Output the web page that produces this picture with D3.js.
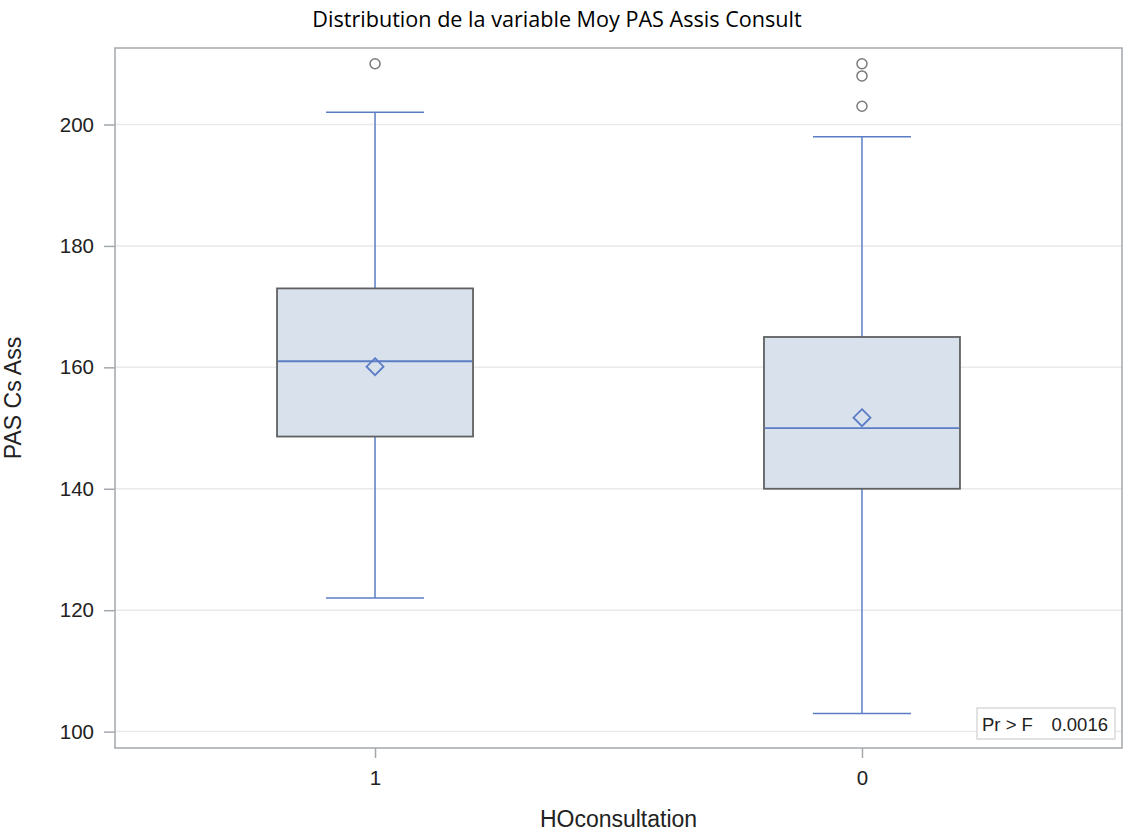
<!DOCTYPE html>
<html><head><meta charset="utf-8">
<script src="https://cdn.jsdelivr.net/npm/d3@7"></script>
<style>body{margin:0;background:#fff}svg{display:block}</style>
</head><body>
<svg id="c" width="1124" height="833"></svg>
<script>
const categories = ["1", "0"];
const whiskerLow = [122, 103];
const q1 = [148.6, 140];
const median = [161, 150];
const q3 = [173, 165];
const whiskerHigh = [202, 198];
const mean = [160.1, 151.7];
const outliers = [[210], [210, 208, 203]];
const yTicks = [100, 120, 140, 160, 180, 200];
const title = "Distribution de la variable Moy PAS Assis Consult";
const xTitle = "HOconsultation";
const yTitle = "PAS Cs Ass";
const statLabel = "Pr > F";
const statValue = "0.0016";

const svg = d3.select("#c");
const L = 115, R = 1122, T = 48, B = 748;
const y = d3.scaleLinear().domain([97.3, 212.6]).range([B, T]);
const x = d3.scalePoint().domain(categories).range([L, R]).padding(0.534);
const boxW = 196, capW = 98;
const blue = "#5b7dc6", font = "'Liberation Sans', Arial, sans-serif";

// gridlines
svg.append("g").selectAll("line").data(yTicks).join("line")
  .attr("x1", L).attr("x2", R).attr("y1", d => y(d)).attr("y2", d => y(d))
  .attr("stroke", "#e9e9e9").attr("stroke-width", 1.5);

// axes
const ya = svg.append("g").attr("transform", `translate(${L},0)`)
  .call(d3.axisLeft(y).tickValues(yTicks).tickSize(11).tickPadding(10));
const xa = svg.append("g").attr("transform", `translate(0,${B})`)
  .call(d3.axisBottom(x).tickSize(10).tickPadding(12));
[ya, xa].forEach(a => {
  a.select(".domain").remove();
  a.selectAll("line").attr("stroke", "#a4a8ac").attr("stroke-width", 1.5);
  a.selectAll("text").attr("font-family", font).attr("font-size", 20.5).attr("fill", "#222");
});

// frame
svg.append("rect").attr("x", L).attr("y", T).attr("width", R - L).attr("height", B - T)
  .attr("fill", "none").attr("stroke", "#a4a8ac").attr("stroke-width", 1.5);

const g = svg.append("g");
categories.forEach((c, i) => {
  const cx = x(c);
  g.append("line").attr("x1", cx).attr("x2", cx).attr("y1", y(whiskerHigh[i])).attr("y2", y(q3[i]))
    .attr("stroke", blue).attr("stroke-width", 1.5);
  g.append("line").attr("x1", cx).attr("x2", cx).attr("y1", y(q1[i])).attr("y2", y(whiskerLow[i]))
    .attr("stroke", blue).attr("stroke-width", 1.5);
  [whiskerHigh[i], whiskerLow[i]].forEach(v => {
    g.append("line").attr("x1", cx - capW / 2).attr("x2", cx + capW / 2).attr("y1", y(v)).attr("y2", y(v))
      .attr("stroke", blue).attr("stroke-width", 1.5);
  });
  g.append("rect").attr("x", cx - boxW / 2).attr("width", boxW)
    .attr("y", y(q3[i])).attr("height", y(q1[i]) - y(q3[i]))
    .attr("fill", "#d9e1ec").attr("stroke", "#5f6163").attr("stroke-width", 1.8);
  g.append("line").attr("x1", cx - boxW / 2 + 1).attr("x2", cx + boxW / 2 - 1)
    .attr("y1", y(median[i])).attr("y2", y(median[i]))
    .attr("stroke", blue).attr("stroke-width", 1.8);
  const my = y(mean[i]), s = 8.5;
  g.append("path").attr("d", `M${cx},${my - s}L${cx + s},${my}L${cx},${my + s}L${cx - s},${my}Z`)
    .attr("fill", "none").attr("stroke", blue).attr("stroke-width", 1.8);
  g.selectAll(null).data(outliers[i]).join("circle")
    .attr("cx", cx).attr("cy", d => y(d)).attr("r", 5)
    .attr("fill", "none").attr("stroke", "#7a7a7a").attr("stroke-width", 1.5);
});

// inset stat box
svg.append("rect").attr("x", 977).attr("y", 708).attr("width", 138).attr("height", 31)
  .attr("fill", "#fff").attr("stroke", "#cfcfcf").attr("stroke-width", 1.2);
svg.append("text").attr("x", 982).attr("y", 731).text(statLabel)
  .attr("font-family", font).attr("font-size", 18.5).attr("fill", "#222");
svg.append("text").attr("x", 1108).attr("y", 731).attr("text-anchor", "end").text(statValue)
  .attr("font-family", font).attr("font-size", 18.5).attr("fill", "#222");

// titles
svg.append("text").attr("x", 557).attr("y", 27).attr("text-anchor", "middle").text(title)
  .attr("font-family", "'Open Sans', sans-serif").attr("font-size", 21.6).attr("fill", "#000");
svg.append("text").attr("x", (L + R) / 2).attr("y", 827).attr("text-anchor", "middle").text(xTitle)
  .attr("font-family", font).attr("font-size", 23).attr("fill", "#222");
svg.append("text").attr("transform", `translate(21,${(T + B) / 2}) rotate(-90)`)
  .attr("text-anchor", "middle").text(yTitle)
  .attr("font-family", font).attr("font-size", 23).attr("fill", "#222");
</script>
</body></html>
